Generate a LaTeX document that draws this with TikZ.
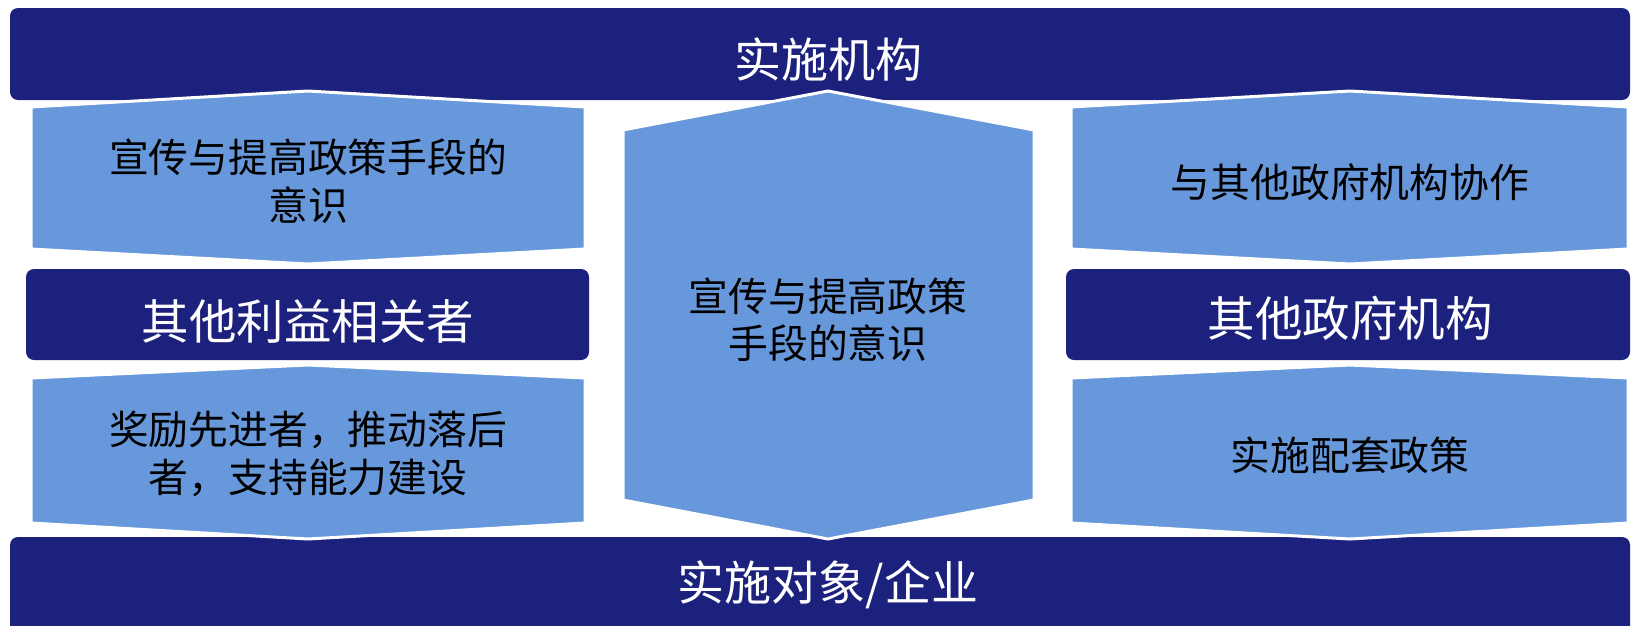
\documentclass[tikz,border=0pt]{standalone}
\usepackage{fontspec}
\setmainfont{Noto Sans CJK SC}
\definecolor{navy}{RGB}{28,33,125}
\definecolor{lblue}{RGB}{103,152,220}
\begin{document}
\begin{tikzpicture}[x=1pt,y=-1pt,
  bar/.style={fill=navy, rounded corners=8pt},
  panel/.style={fill=lblue, draw=white, line width=3pt, line join=miter},
  bigtext/.style={text=white, font=\fontsize{47}{56}\selectfont, inner sep=0pt},
  bartext/.style={text=white, font=\fontsize{47.5}{56}\selectfont, inner sep=0pt},
  ptext/.style={text=black, font=\fontsize{39.8}{47.5}\selectfont, align=center, inner sep=0pt}]
\useasboundingbox (0,0) rectangle (1633,625);
\fill[white] (0,0) rectangle (1633,625);
% top and bottom bars
\fill[bar] (10,8) rectangle (1630,100);
\fill[bar] (10,537) rectangle (1630,650);
% middle bars
\fill[bar] (26,269) rectangle (589,360);
\fill[bar] (1066,269) rectangle (1630,360);
% left panels
\filldraw[panel] (31,107) -- (308,91) -- (585,107) -- (585,249) -- (308,264) -- (31,249) -- cycle;
\filldraw[panel] (31,378) -- (308,365) -- (585,378) -- (585,523) -- (308,539) -- (31,523) -- cycle;
% middle panel
\filldraw[panel] (623,130) -- (828,91) -- (1034,130) -- (1034,500) -- (828,539) -- (623,500) -- cycle;
% right panels
\filldraw[panel] (1071,107) -- (1350,91) -- (1628,107) -- (1628,249) -- (1350,264) -- (1071,249) -- cycle;
\filldraw[panel] (1071,378) -- (1350,365) -- (1628,378) -- (1628,523) -- (1350,539) -- (1071,523) -- cycle;
% texts
\node[bigtext] (top) at (828,59) {实施机构};
\node[bigtext] (bottom) at (828,585) {实施对象/企业};
\node[bartext] (lbar) at (308,321) {其他利益相关者};
\node[bartext] (rbar) at (1350,318) {其他政府机构};
\node[ptext] (lp1) at (308,181) {宣传与提高政策手段的\\意识};
\node[ptext] (lp2) at (308,454) {奖励先进者，推动落后\\者，支持能力建设};
\node[ptext] (mid) at (828,320) {宣传与提高政策\\手段的意识};
\node[ptext] (rp1) at (1350,182) {与其他政府机构协作};
\node[ptext] (rp2) at (1350,455) {实施配套政策};
\end{tikzpicture}
\end{document}
